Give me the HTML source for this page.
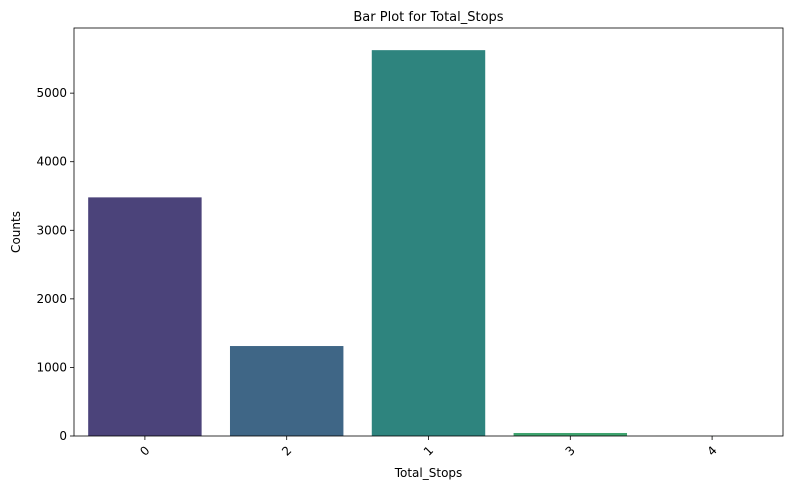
<!DOCTYPE html>
<html><head><meta charset="utf-8"><style>
body{margin:0;background:#fff;font-family:"Liberation Sans","DejaVu Sans",sans-serif}
</style></head><body>
<svg id="c" width="790" height="492" font-family="DejaVu Sans, Liberation Sans, sans-serif"></svg>
<script>
const categories=["0","2","1","3","4"];
const counts=[3480,1312,5627,44,1];
const yTicks=[0,1000,2000,3000,4000,5000];
const colors=["#4b437a","#3f6686","#2e847e","#3fa46f","#6ccd59"];
const L=74,R=783,T=28,B=436,yMax=5950;
const ns="http://www.w3.org/2000/svg",svg=document.getElementById('c');
function y(v){return B-(B-T)*v/yMax;}
const band=(R-L)/categories.length;
function x(i){return L+band*i+band/2;}
function mk(t,a,txt){const e=document.createElementNS(ns,t);for(const k in a)e.setAttribute(k,a[k]);if(txt!==undefined)e.textContent=txt;svg.appendChild(e);return e;}
counts.forEach((v,i)=>{const bw=band*0.8;
const r=mk('rect',{x:x(i)-bw/2,y:y(v),width:bw,height:B-y(v),fill:colors[i]});


mk('line',{x1:x(i),x2:x(i),y1:B,y2:B+4,stroke:'#000','stroke-width':0.8});
const t=mk('text',{x:x(i),y:B+19,'font-size':12,'text-anchor':'middle',transform:`rotate(-45 ${x(i)} ${B+15})`},categories[i]);


});
yTicks.forEach(v=>{mk('line',{x1:L-4,x2:L,y1:y(v),y2:y(v),stroke:'#000','stroke-width':0.8});
const t=mk('text',{x:L-7,y:y(v)+4,'font-size':12,'text-anchor':'end'},v);


});
const f=mk('rect',{x:L,y:T,width:R-L,height:B-T,fill:'none',stroke:'#000','stroke-width':0.8});

const tt=mk('text',{x:(L+R)/2,y:T-7,'font-size':13,'text-anchor':'middle'},'Bar Plot for Total_Stops');

const xt=mk('text',{x:(L+R)/2,y:477,'font-size':12,'text-anchor':'middle'},'Total_Stops');

const yt=mk('text',{x:20,y:(T+B)/2,'font-size':12,'text-anchor':'middle',transform:`rotate(-90 20 ${(T+B)/2})`},'Counts');

</script>
</body></html>
